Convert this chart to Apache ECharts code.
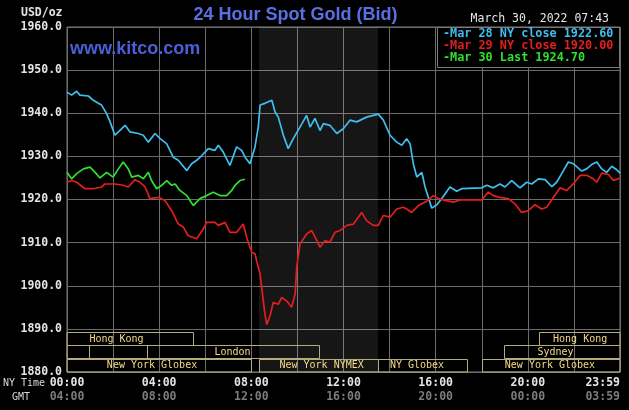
<!DOCTYPE html>
<html><head><meta charset="utf-8">
<script src="https://cdn.jsdelivr.net/npm/echarts@6/dist/echarts.min.js"></script>
<style>html,body{margin:0;padding:0;background:#000;}#c{width:629px;height:410px;}</style>
</head><body><div id="c"></div>
<script>
// ---- data (hours NY time, USD/oz) ----
const blueT = [0,0.2,0.42,0.56,0.93,1.14,1.36,1.5,1.72,1.87,2.08,2.23,2.52,2.73,3.1,3.31,3.53,3.82,4.04,4.33,4.61,4.83,5.2,5.41,5.63,5.85,6.13,6.42,6.57,6.78,7.07,7.36,7.58,7.73,7.94,8.16,8.3,8.38,8.59,8.89,9.03,9.17,9.39,9.6,9.82,10.11,10.4,10.55,10.76,10.98,11.13,11.41,11.71,11.99,12.28,12.57,13.0,13.51,13.73,14.02,14.31,14.53,14.74,14.89,15.03,15.18,15.4,15.54,15.83,16.05,16.26,16.62,16.91,17.13,18.0,18.22,18.5,18.79,19.01,19.3,19.66,19.95,20.17,20.46,20.75,21.04,21.25,21.47,21.76,21.97,22.34,22.55,22.77,22.99,23.21,23.42,23.64,23.86,24];
const blueV = [1944.9,1944.2,1945.1,1944.2,1944.0,1943.0,1942.3,1941.9,1939.9,1938.0,1934.9,1935.7,1937.2,1935.7,1935.3,1934.9,1933.3,1935.3,1934.1,1932.9,1929.8,1929.1,1926.7,1928.3,1929.1,1930.2,1931.8,1931.4,1932.6,1931.0,1927.9,1932.2,1931.4,1929.8,1928.3,1932.2,1936.8,1941.9,1942.3,1943.0,1940.3,1939.1,1934.9,1931.8,1934.1,1936.8,1939.5,1936.8,1938.8,1936.0,1937.6,1937.2,1935.3,1936.4,1938.4,1938.0,1939.1,1939.8,1938.4,1934.9,1933.3,1932.6,1934.1,1932.9,1928.3,1925.2,1926.3,1922.9,1918.0,1918.8,1920.2,1922.9,1921.9,1922.5,1922.7,1923.3,1922.7,1923.6,1922.9,1924.4,1922.7,1924.0,1923.6,1924.8,1924.6,1923.0,1924.0,1926.0,1928.7,1928.3,1926.6,1927.1,1928.1,1928.7,1927.1,1926.3,1927.7,1926.9,1926.1];

const redT = [0,0.2,0.42,0.78,1.14,1.5,1.65,2.08,2.44,2.66,2.95,3.17,3.39,3.6,3.96,4.25,4.54,4.83,5.05,5.26,5.63,5.92,6.06,6.42,6.57,6.86,7.07,7.36,7.65,7.8,8.02,8.16,8.23,8.38,8.59,8.67,8.81,8.95,9.17,9.32,9.53,9.75,9.9,9.97,10.11,10.4,10.62,10.84,10.98,11.2,11.41,11.63,11.85,12.14,12.43,12.79,13.0,13.29,13.51,13.73,14.02,14.31,14.6,14.74,14.96,15.25,15.61,15.9,16.12,16.41,16.77,17.06,18.0,18.29,18.5,18.79,19.15,19.44,19.73,20.02,20.31,20.6,20.82,21.11,21.4,21.69,21.97,22.27,22.55,22.84,22.99,23.21,23.5,23.71,23.97];
const redV = [1924.0,1924.4,1924.0,1922.5,1922.5,1922.9,1923.6,1923.6,1923.3,1922.9,1924.6,1924.0,1922.9,1920.2,1920.5,1919.8,1917.4,1914.3,1913.6,1911.6,1910.9,1913.2,1914.7,1914.7,1914.0,1914.7,1912.4,1912.4,1914.3,1911.2,1907.7,1907.4,1905.8,1902.7,1893.4,1891.0,1893.0,1896.1,1895.7,1897.3,1896.5,1895.0,1898.1,1904.3,1909.7,1912.0,1912.8,1910.5,1908.9,1910.5,1910.1,1912.4,1912.8,1914.0,1914.3,1917.0,1915.1,1914.0,1914.0,1916.3,1915.9,1917.8,1918.2,1917.8,1917.0,1918.6,1919.6,1920.9,1920.2,1919.8,1919.4,1919.9,1919.9,1921.7,1920.9,1920.5,1920.2,1919.0,1917.0,1917.4,1918.8,1917.8,1918.2,1920.5,1922.7,1922.1,1923.6,1925.6,1925.6,1924.8,1924.0,1926.1,1925.8,1924.4,1924.9];

const greenT = [0,0.2,0.42,0.71,1.0,1.22,1.43,1.72,2.0,2.23,2.44,2.66,2.81,3.1,3.31,3.53,3.67,3.89,4.11,4.33,4.54,4.69,4.9,5.2,5.48,5.77,6.06,6.35,6.64,6.93,7.15,7.29,7.51,7.72];
const greenV = [1926.3,1924.8,1926.0,1927.1,1927.5,1926.3,1925.0,1926.3,1925.2,1927.1,1928.7,1927.1,1925.2,1925.6,1924.8,1926.3,1924.4,1922.5,1923.3,1924.4,1923.3,1923.6,1922.1,1920.9,1918.6,1920.2,1920.9,1921.7,1920.9,1920.9,1922.1,1923.3,1924.4,1924.7];

const seriesNames = ['Mar 28 NY close 1922.60', 'Mar 29 NY close 1920.00', 'Mar 30 Last 1924.70'];
const nymexSpan = [8.33, 13.5];

// sessions: start hour, end hour, row (0 top), label centre hour, name
const sessStart   = [-1.2, -1.0, 0.95, 3.47, -0.7, 8.33, 13.5, 18.0, 18.97, 20.5];
const sessEnd     = [5.47, 0.95, 3.47, 10.93, 8.0, 13.5, 17.35, 25, 25, 25];
const sessRow     = [0, 1, 1, 1, 2, 2, 2, 2, 1, 0];
const sessLabelAt = [2.15, 0, 0, 7.18, 3.69, 11.05, 15.19, 20.96, 21.2, 22.27];
const sessName    = ['Hong Kong', '', '', 'London', 'New York Globex', 'New York NYMEX', 'NY Globex', 'New York Globex', 'Sydney', 'Hong Kong'];

const xTickNY  = {0:'00:00',4:'04:00',8:'08:00',12:'12:00',16:'16:00',20:'20:00',24:'23:59'};
const xTickGMT = {0:'04:00',4:'08:00',8:'12:00',12:'16:00',16:'20:00',20:'00:00',24:'03:59'};

// ---- build ----
const pairs = (t, v) => t.map((x, i) => [x, v[i]]);
const MONO = '"DejaVu Sans Mono", monospace';
const colors = ['#3fbfee', '#e41e1e', '#2fe02f'];

const chart = echarts.init(document.getElementById('c'), null, {renderer: 'canvas'});
const lineBase = {type: 'line', showSymbol: false, smooth: false, z: 5};

const option = {
  backgroundColor: '#000',
  animation: false,
  grid: {left: 67, right: 9, top: 27, bottom: 38, show: true, borderColor: '#7c7c7c', borderWidth: 1, backgroundColor: 'transparent'},
  xAxis: {
    type: 'value', min: 0, max: 24, interval: 2,
    axisLine: {show: false}, axisTick: {show: false},
    splitLine: {show: true, lineStyle: {color: '#6c6c6c', width: 1}},
    axisLabel: {
      margin: 4, alignMaxLabel: 'right',
      formatter: v => xTickNY[v] ? '{a|' + xTickNY[v] + '}\n{b|' + xTickGMT[v] + '}' : '',
      rich: {
        a: {color: '#e4e4e4', fontFamily: MONO, fontWeight: 'bold', fontSize: 11.5, lineHeight: 14},
        b: {color: '#7c7c7c', fontFamily: MONO, fontWeight: 'bold', fontSize: 11.5, lineHeight: 14}
      }
    }
  },
  yAxis: {
    type: 'value', min: 1880, max: 1960, interval: 10,
    axisLine: {show: false}, axisTick: {show: false},
    splitLine: {show: true, lineStyle: {color: '#6c6c6c', width: 1}},
    axisLabel: {margin: 5, color: '#e4e4e4', fontFamily: MONO, fontWeight: 'bold', fontSize: 11.5, formatter: v => v.toFixed(1)}
  },
  series: [
    Object.assign({}, lineBase, {name: seriesNames[0], data: pairs(blueT, blueV), lineStyle: {width: 1.7, color: colors[0]}, itemStyle: {color: colors[0]},
      markArea: {silent: true, itemStyle: {color: 'rgba(255,255,255,0.085)'}, data: [[{xAxis: nymexSpan[0]}, {xAxis: nymexSpan[1]}]]}}),
    Object.assign({}, lineBase, {name: seriesNames[1], data: pairs(redT, redV), lineStyle: {width: 1.7, color: colors[1]}, itemStyle: {color: colors[1]}}),
    Object.assign({}, lineBase, {name: seriesNames[2], data: pairs(greenT, greenV), lineStyle: {width: 1.7, color: colors[2]}, itemStyle: {color: colors[2]}}),
    {
      type: 'custom', z: 4, silent: true,
      data: sessStart.map((s, i) => [s, sessEnd[i], sessRow[i], sessLabelAt[i]]),
      renderItem: function (params, api) {
        const s = api.value(0), e = api.value(1), r = api.value(2), c = api.value(3);
        const top = 1889.2 - r * 3.05, bot = top - 3.05;
        const p1 = api.coord([s, top]), p2 = api.coord([e, bot]);
        const cs = params.coordSys;
        const rect = echarts.graphic.clipRectByRect(
          {x: Math.round(p1[0]) + 0.5, y: Math.round(p1[1]) + 0.5, width: Math.round(p2[0] - p1[0]), height: Math.round(p2[1] - p1[1])},
          {x: cs.x, y: cs.y, width: cs.width, height: cs.height});
        const children = [];
        if (rect) children.push({type: 'rect', shape: rect, style: {fill: null, stroke: '#b6ad7c', lineWidth: 1}});
        const name = sessName[params.dataIndex];
        if (name) {
          const pc = api.coord([c, (top + bot) / 2]);
          children.push({type: 'text', x: pc[0], y: pc[1] + 0.5, style: {text: name, fill: '#f2d98c', font: '10px ' + MONO, align: 'center', verticalAlign: 'middle'}});
        }
        return {type: 'group', children: children};
      }
    }
  ],
  graphic: [
    {type: 'text', left: 21, top: 7, style: {text: 'USD/oz', fill: '#e4e4e4', font: 'bold 11.5px ' + MONO}},
    {type: 'text', x: 295.5, y: 15.5, style: {text: '24 Hour Spot Gold (Bid)', fill: '#5b6fe4', font: 'bold 18px "Liberation Sans", Arial, sans-serif', align: 'center', verticalAlign: 'middle'}, z: 20},
    {type: 'text', x: 70, y: 49, style: {text: 'www.kitco.com', fill: '#4b5fd8', font: 'bold 18px "Liberation Sans", Arial, sans-serif', align: 'left', verticalAlign: 'middle'}, z: 20},
    {type: 'text', x: 609, y: 19, style: {text: 'March 30, 2022 07:43', fill: '#e6e6e6', font: '11.5px ' + MONO, align: 'right', verticalAlign: 'middle'}, z: 20},
    {type: 'rect', shape: {x: 437.5, y: 27.5, width: 182, height: 40}, style: {fill: '#000', stroke: '#7c7c7c', lineWidth: 1}, z: 20},
    {type: 'text', x: 443, y: 34, style: {text: '-' + seriesNames[0], fill: colors[0], font: 'bold 11.8px ' + MONO, verticalAlign: 'middle'}, z: 21},
    {type: 'text', x: 443, y: 46, style: {text: '-' + seriesNames[1], fill: colors[1], font: 'bold 11.8px ' + MONO, verticalAlign: 'middle'}, z: 21},
    {type: 'text', x: 443, y: 58, style: {text: '-' + seriesNames[2], fill: colors[2], font: 'bold 11.8px ' + MONO, verticalAlign: 'middle'}, z: 21},
    {type: 'text', x: 3, y: 383, style: {text: 'NY Time', fill: '#d8d8d8', font: '10px ' + MONO, verticalAlign: 'middle'}, z: 20},
    {type: 'text', x: 12, y: 397, style: {text: 'GMT', fill: '#d8d8d8', font: '10px ' + MONO, verticalAlign: 'middle'}, z: 20}
  ]
};
chart.setOption(option);
</script>
</body></html>
